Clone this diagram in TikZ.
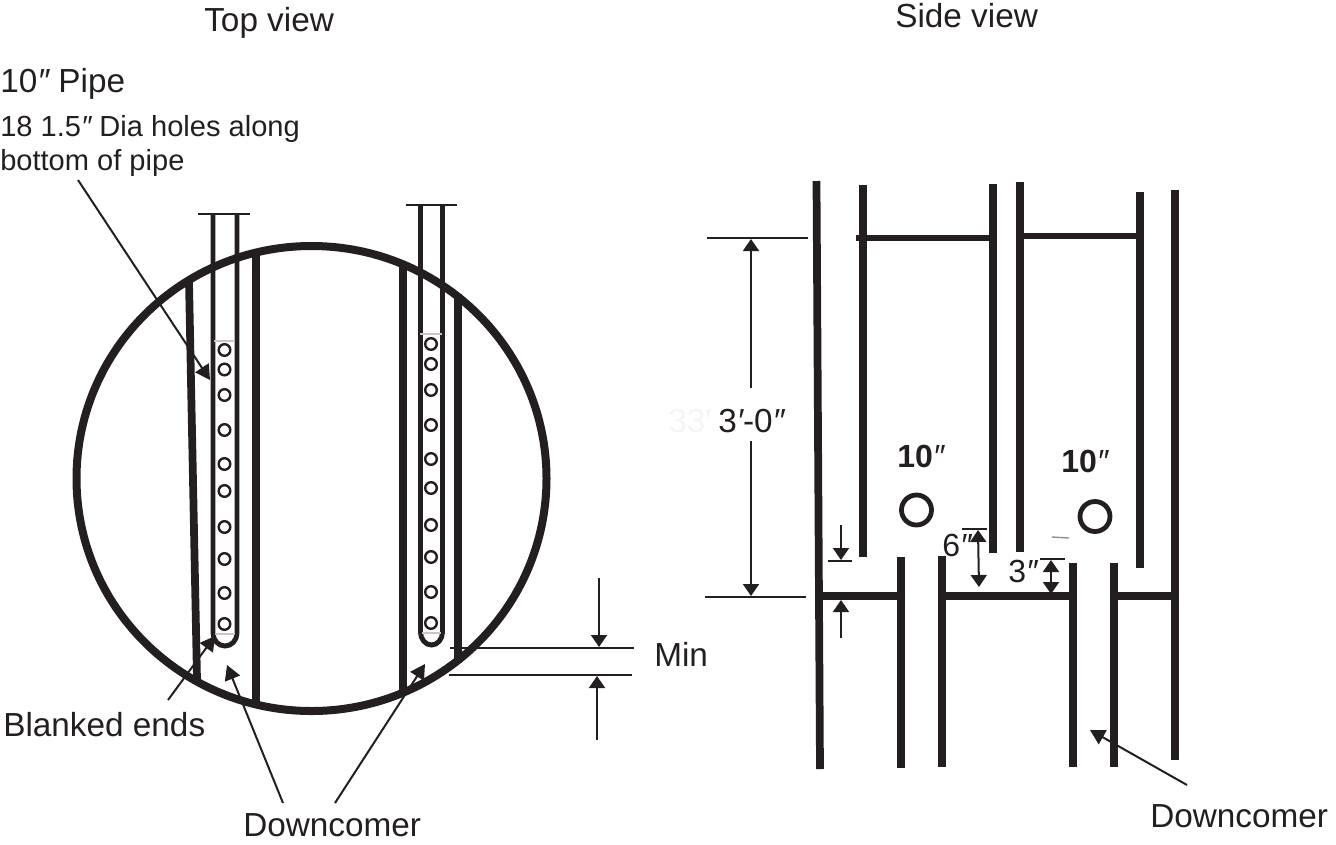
\documentclass[tikz,border=0pt]{standalone}
\usepackage{fontspec}
\setmainfont{Liberation Sans}
\usetikzlibrary{arrows.meta}
\definecolor{ink}{HTML}{231F20}
\tikzset{
 wall/.style={draw=ink,line width=5.8pt},
 pipewall/.style={draw=ink,line width=3.7pt},
 capbar/.style={draw=ink,line width=1.6pt},
 fine/.style={draw=ink,line width=1.5pt},
 leader/.style={draw=ink,line width=1.5pt,-{Triangle[length=11pt,width=12pt]}},
 dimarrow/.style={draw=ink,line width=1.5pt,-{Triangle[length=9pt,width=12pt]}},
 dimboth/.style={draw=ink,line width=1.5pt,{Triangle[length=9pt,width=12pt]}-{Triangle[length=9pt,width=12pt]}},
 hole/.style={draw=ink,line width=1.8pt},
 pale/.style={draw=black!22,line width=1.2pt},
 lab/.style={text=ink,inner sep=0pt,anchor=base west,font=\fontsize{25pt}{28pt}\selectfont},
 labs/.style={lab,font=\fontsize{21.8pt}{25pt}\selectfont},
 labd/.style={lab,font=\fontsize{24pt}{28pt}\selectfont},
 labb/.style={lab,font=\fontsize{24pt}{28pt}\selectfont\bfseries},
}
\newcommand{\dq}{{\normalfont\itshape ″}}
\newcommand{\sq}{{\normalfont\itshape ′}}
\begin{document}
\begin{tikzpicture}[x=0.75pt,y=-0.75pt]
\useasboundingbox (0,0) rectangle (1336,844);
% ---- labels
\node[lab] (top) at (204,31) {Top view};
\node[lab] (side) at (895,27) {Side view};
\node[lab] (pipe) at (0,92) {10\dq{} Pipe};
\node[labs] (holes) at (0,136) {18 1.5\dq{} Dia holes along};
\node[labs] (holesb) at (0,170) {bottom of pipe};
\node[lab] (blank) at (3,736) {Blanked ends};
\node[lab] (dcl) at (243,836) {Downcomer};
\node[lab] (dcr) at (1150,827) {Downcomer};
\node[lab] (min) at (654,666) {Min};
\node[lab,text=black!4] (ghost) at (668,432) {33′};
\node[lab] (h30) at (718,432) {3\sq{}-0\dq{}};
\node[labd] (six) at (942,556) {6\dq{}};
\node[labd] (three) at (1008,582) {3\dq{}};
\node[labb] (tena) at (897,467) {10\dq{}};
\node[labb] (tenb) at (1061,472) {10\dq{}};
% ---- top view: shell
\draw[draw=ink,line width=6pt] (311.5,478.5) ellipse [x radius=235,y radius=232.5];
% downcomer walls
\draw[wall] (189,282) -- (197,679);
\draw[wall] (256,256) -- (256,702);
\draw[wall] (403,267) -- (403,694);
\draw[wall] (458,294) -- (458,663);
% pipes
\draw[pipewall] (213,214) -- (213,633) arc[start angle=180,end angle=0,x radius=12,y radius=13] -- (237,214);
\draw[capbar] (198,214) -- (250,214);
\draw[pale] (214,341) -- (235,341);
\draw[pale] (215,634) -- (235,634);
\draw[pipewall] (420.5,205) -- (420.5,632) arc[start angle=180,end angle=0,x radius=11,y radius=13] -- (442.5,205);
\draw[capbar] (406,205) -- (457,205);
\draw[pale] (420,334) -- (442,334);
\draw[pale] (422,633) -- (441,633);
\foreach \y in {350,369.5,395,430,464,491,527,559,593,624}
  \draw[hole] (224.5,\y) circle[radius=5.8];
\foreach \y in {344,364,390,425,459,488,525,557,592,623}
  \draw[hole] (431,\y) circle[radius=5.8];
% leaders, top view
\coordinate (pipetip) at (210,380);
\coordinate (pipetail) at (78,180);
\coordinate (blanktip) at (215,636);
\coordinate (blanktail) at (168,700);
\coordinate (dctipa) at (227,665);
\coordinate (dctaila) at (283,803);
\coordinate (dctipb) at (425,664);
\coordinate (dctailb) at (335,803);
\draw[leader] (pipetail) -- (pipetip);
\draw[leader] (blanktail) -- (blanktip);
\draw[leader] (dctaila) -- (dctipa);
\draw[leader] (dctailb) -- (dctipb);
% Min dimension
\draw[fine] (450,648) -- (634,648);
\draw[fine] (449,675) -- (632,675);
\coordinate (mina) at (599,578);
\coordinate (minb) at (599,647);
\coordinate (minc) at (597,740);
\coordinate (mind) at (597,676);
\draw[dimarrow] (mina) -- (minb);
\draw[dimarrow] (minc) -- (mind);
% ---- side view
\draw[wall] (816.5,181) -- (820,769);
\draw[wall] (863,185) -- (863,557);
\draw[wall] (993,184) -- (993,553);
\draw[wall] (1020,182) -- (1020,552);
\draw[wall] (1140,192) -- (1140,568);
\draw[wall] (1175,190) -- (1175,760);
\draw[draw=ink,line width=4.4pt] (856,238) -- (993,238);
\draw[draw=ink,line width=4.4pt] (1020,236) -- (1140,236);
\draw[wall] (901,557) -- (901,768);
\draw[wall] (942,556) -- (942,767);
\draw[wall] (1073,563) -- (1073,767);
\draw[wall] (1114,563) -- (1114,767);
\draw[wall] (820,596) -- (901,596);
\draw[wall] (942,596) -- (1073,596);
\draw[wall] (1114,596) -- (1175,596);
\draw[draw=ink,line width=3.6pt] (916.5,510) circle[radius=15];
\draw[draw=ink,line width=3.6pt] (1095,516.5) circle[radius=15];
\draw[draw=black!45,line width=1pt] (1052,537) -- (1069,538);
% 3'-0" dimension
\draw[fine] (707,238) -- (808,238);
\draw[fine] (705,597) -- (806,597);
\coordinate (ha) at (751,388);
\coordinate (hb) at (751,239);
\coordinate (hc) at (751,441);
\coordinate (hd) at (751,596);
\draw[dimarrow] (ha) -- (hb);
\draw[dimarrow] (hc) -- (hd);
% small dimension
\draw[fine] (828,561) -- (852,561);
\coordinate (sa) at (841,525);
\coordinate (sb) at (841,560);
\coordinate (sc) at (841,638);
\coordinate (sd) at (841,600);
\draw[dimarrow] (sa) -- (sb);
\draw[dimarrow] (sc) -- (sd);
% 6" dimension
\draw[fine] (962,529) -- (987,529);
\coordinate (xa) at (978,530);
\coordinate (xb) at (979,587);
\draw[dimboth] (xa) -- (xb);
% 3" dimension
\draw[fine] (1040,559) -- (1065,559);
\coordinate (ta) at (1051,560);
\coordinate (tb) at (1051,594);
\draw[dimboth] (ta) -- (tb);
% downcomer leader
\coordinate (drt) at (1187,785);
\coordinate (drh) at (1090,730);
\draw[leader] (drt) -- (drh);
\end{tikzpicture}
\end{document}
